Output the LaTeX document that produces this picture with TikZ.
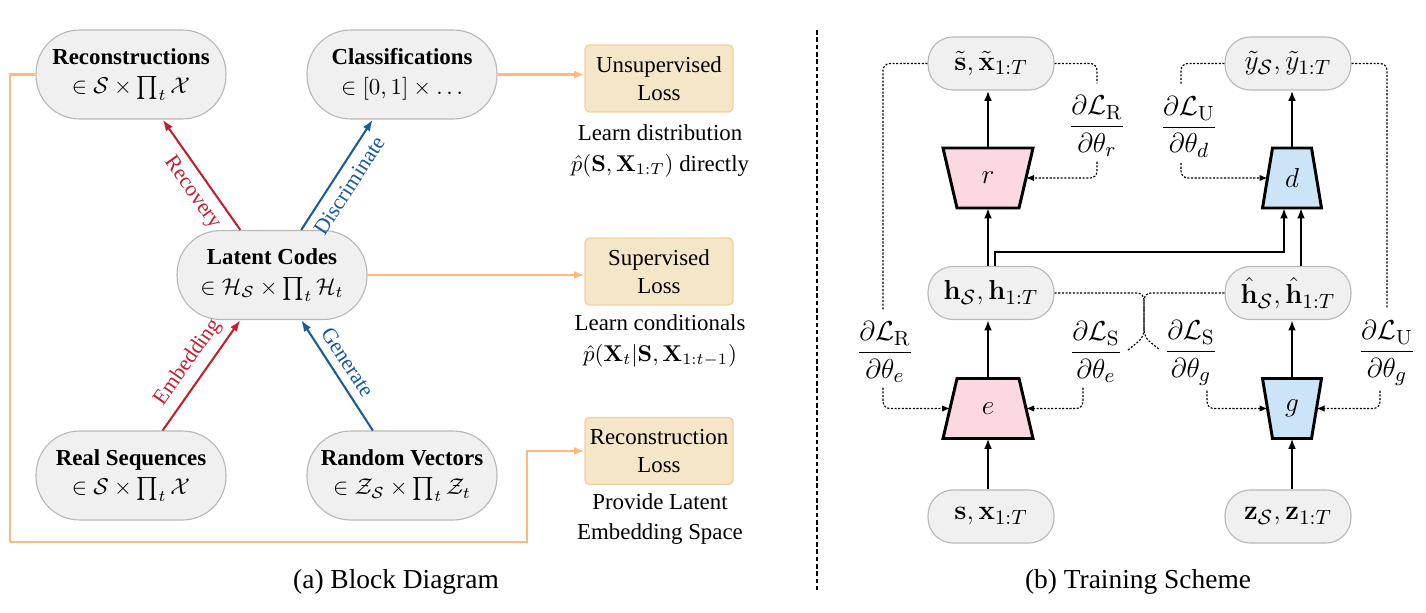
\documentclass[tikz,border=0pt]{standalone}
\usepackage[no-math]{fontspec}
\setmainfont{Liberation Serif}
\usetikzlibrary{arrows.meta,calc,backgrounds}
\definecolor{nfill}{RGB}{240,240,240}
\definecolor{ndraw}{RGB}{185,185,185}
\definecolor{lossfill}{RGB}{245,230,200}
\definecolor{lossdraw}{RGB}{240,208,160}
\definecolor{orangec}{RGB}{253,186,124}
\definecolor{redc}{RGB}{196,30,45}
\definecolor{bluec}{RGB}{25,90,155}
\definecolor{pinkc}{RGB}{252,216,224}
\definecolor{lbluec}{RGB}{204,228,248}
\begin{document}
\begin{tikzpicture}[x=0.4375pt,y=-0.4375pt,
  lnode/.style={draw=ndraw, fill=nfill, line width=0.5pt, rounded corners=19pt,
    minimum width=83.1pt, minimum height=38.9pt, align=center,
    font=\fontsize{10}{13}\selectfont, inner sep=0pt},
  rnode/.style={draw=ndraw, fill=nfill, line width=0.5pt, rounded corners=11pt,
    minimum width=55.1pt, minimum height=23.2pt, font=\fontsize{13}{15}\selectfont, inner sep=0pt},
  lossbox/.style={draw=lossdraw, fill=lossfill, line width=0.6pt, rounded corners=2pt,
    minimum width=64.75pt, minimum height=29.3pt, align=center,
    font=\fontsize{10}{12}\selectfont, inner sep=0pt},
  note/.style={align=center, font=\fontsize{10}{13.5}\selectfont, inner sep=0pt},
  capt/.style={font=\fontsize{12}{14}\selectfont, inner sep=0pt},
  lbl/.style={font=\fontsize{9.5}{10}\selectfont, inner sep=3.4pt, sloped},
  redarr/.style={draw=redc, line width=0.9pt, -{Latex[length=5pt,width=3.6pt]}},
  bluearr/.style={draw=bluec, line width=0.9pt, -{Latex[length=5pt,width=3.6pt]}},
  orline/.style={draw=orangec, line width=1.1pt},
  orarr/.style={orline, -{Latex[length=4.5pt,width=3.6pt]}},
  trap/.style={minimum width=#1, minimum height=26.25pt, inner sep=0pt, outer sep=0pt,
    font=\fontsize{13}{15}\selectfont},
  trapline/.style={draw=black, line width=1.3pt, line join=miter},
  arr/.style={draw=black, line width=0.9pt, -{Latex[length=4.5pt,width=3.4pt]}},
  frac/.style={font=\fontsize{13}{15}\selectfont, inner sep=0pt},
  dotline/.style={draw=black, line width=0.5pt, dash pattern=on 0.9pt off 0.7pt, rounded corners=3pt},
  dotarr/.style={dotline, -{Latex[length=3.5pt,width=2.8pt]}},
  sep/.style={draw=black, line width=1pt, dash pattern=on 2pt off 1.2pt}
]
\useasboundingbox (0,0) rectangle (1426,612);

% ---------- (a) Block diagram ----------
\node[lnode] (rec) at (131,74.5) {\textbf{Reconstructions}\\ $\in\mathcal{S}\times\prod_t\mathcal{X}$};
\node[lnode] (cls) at (402,74.5) {\textbf{Classifications}\\ $\in[0,1]\times\ldots$};
\node[lnode] (lat) at (272,275) {\textbf{Latent Codes}\\ $\in\mathcal{H}_\mathcal{S}\times\prod_t\mathcal{H}_t$};
\node[lnode] (real) at (131,475.5) {\textbf{Real Sequences}\\ $\in\mathcal{S}\times\prod_t\mathcal{X}$};
\node[lnode] (rand) at (402,475.5) {\textbf{Random Vectors}\\ $\in\mathcal{Z}_\mathcal{S}\times\prod_t\mathcal{Z}_t$};

\node[lossbox] (unsup) at (659,78.5) {Unsupervised\\Loss};
\node[lossbox] (sup) at (659,271.5) {Supervised\\Loss};
\node[lossbox] (recl) at (659,451) {Reconstruction\\Loss};

\node[note] (n1) at (660,151) {Learn distribution\\ $\hat{p}(\mathbf{S},\mathbf{X}_{1:T})$ directly};
\node[note] (n2) at (660,341) {Learn conditionals\\ $\hat{p}(\mathbf{X}_t|\mathbf{S},\mathbf{X}_{1:t-1})$};
\node[note] (n3) at (660,519) {Provide Latent\\ Embedding Space};

\draw[redarr] (lat) -- node[lbl, below, pos=0.43, text=redc] (lrec) {Recovery} (rec);
\draw[bluearr] (lat) -- node[lbl, below, pos=0.48, text=bluec] (ldis) {Discriminate} (cls);
\draw[redarr] (real) -- node[lbl, above, pos=0.52, text=redc] (lemb) {Embedding} (lat);
\draw[bluearr] (rand) -- node[lbl, above, pos=0.54, text=bluec] (lgen) {Generate} (lat);

\draw[orarr] (cls.east) -- (cls.east -| unsup.west);
\draw[orarr] (lat.east) -- (lat.east -| sup.west);
\coordinate (obl) at (10,542);
\coordinate (obr) at (527,542);
\draw[orarr] (rec.west) -| (obl) -- (obr) |- (recl.west);

\node[capt] (capa) at (396,582) {(a) Block Diagram};

% separator
\coordinate (sept) at (817,30);
\coordinate (sepb) at (817,592);
\draw[sep] (sept) -- (sepb);

% ---------- (b) Training scheme ----------
\node[rnode] (stx) at (991,63.5) {$\tilde{\mathbf{s}},\tilde{\mathbf{x}}_{1:T}$};
\node[rnode] (yt) at (1288,63.5) {$\tilde{y}_\mathcal{S},\tilde{y}_{1:T}$};
\node[rnode] (h) at (991,293) {$\mathbf{h}_\mathcal{S},\mathbf{h}_{1:T}$};
\node[rnode] (hh) at (1288,293) {$\hat{\mathbf{h}}_\mathcal{S},\hat{\mathbf{h}}_{1:T}$};
\node[rnode] (sx) at (991,516.5) {$\mathbf{s},\mathbf{x}_{1:T}$};
\node[rnode] (z) at (1288,516.5) {$\mathbf{z}_\mathcal{S},\mathbf{z}_{1:T}$};

\node[trap=33.25pt] (r) at (988,178) {$r$};
\node[trap=33.25pt] (e) at (988,408.5) {$e$};
\node[trap=21.44pt] (d) at (1292,178) {$d$};
\node[trap=21.44pt] (g) at (1292,408.5) {$g$};

\begin{scope}[on background layer]
\path[trapline, fill=pinkc] ($(r.north west)+(-7,0)$) -- ($(r.north east)+(7,0)$) -- ($(r.south east)+(-7,0)$) -- ($(r.south west)+(7,0)$) -- cycle;
\path[trapline, fill=pinkc] ($(e.north west)+(7,0)$) -- ($(e.north east)+(-7,0)$) -- ($(e.south east)+(7,0)$) -- ($(e.south west)+(-7,0)$) -- cycle;
\path[trapline, fill=lbluec] ($(d.north west)+(5,0)$) -- ($(d.north east)+(-5,0)$) -- ($(d.south east)+(5,0)$) -- ($(d.south west)+(-5,0)$) -- cycle;
\path[trapline, fill=lbluec] ($(g.north west)+(-5,0)$) -- ($(g.north east)+(5,0)$) -- ($(g.south east)+(-5,0)$) -- ($(g.south west)+(5,0)$) -- cycle;
\end{scope}

\node[frac] (FRe) at (885,352) {$\displaystyle\frac{\partial\mathcal{L}_\mathrm{R}}{\partial\theta_e}$};
\node[frac] (FSe) at (1096,352) {$\displaystyle\frac{\partial\mathcal{L}_\mathrm{S}}{\partial\theta_e}$};
\node[frac] (FSg) at (1191,353) {$\displaystyle\frac{\partial\mathcal{L}_\mathrm{S}}{\partial\theta_g}$};
\node[frac] (FUg) at (1387,353) {$\displaystyle\frac{\partial\mathcal{L}_\mathrm{U}}{\partial\theta_g}$};
\node[frac] (FRr) at (1097,126) {$\displaystyle\frac{\partial\mathcal{L}_\mathrm{R}}{\partial\theta_r}$};
\node[frac] (FUd) at (1189,127) {$\displaystyle\frac{\partial\mathcal{L}_\mathrm{U}}{\partial\theta_d}$};

% solid arrows
\draw[arr] (e.south |- sx.north) -- (e.south);
\draw[arr] (e.north) -- (e.north |- h.south);
\draw[arr] (r.south |- h.north) -- (r.south);
\draw[arr] (r.north) -- (r.north |- stx.south);
\coordinate (dL) at ($(d.south)+(-8,0)$);
\coordinate (dR) at ($(d.south)+(9,0)$);
\draw[arr] ($(h.north)+(4,0)$) -- ++(0,-14) -| (dL);
\draw[arr] (dR |- hh.north) -- (dR);
\draw[arr] (d.north) -- (d.north |- yt.south);
\draw[arr] (g.south |- z.north) -- (g.south);
\draw[arr] (g.north) -- (g.north |- hh.south);

% gradient flows
\draw[dotline] (stx.west) -| ($(FRe.north)+(-2,-12)$);
\draw[dotarr] ($(FRe.south)+(-2,5)$) |- (e.west);
\draw[dotline] (stx.east) -| ($(FRr.north)+(0,-12)$);
\draw[dotarr] ($(FRr.south)+(0,5)$) |- (r.east);
\draw[dotline] (yt.west) -| ($(FUd.north)+(-8,-12)$);
\draw[dotarr] ($(FUd.south)+(-8,5)$) |- (d.west);
\draw[dotline] (yt.east) -| ($(FUg.north)+(0,-12)$);
\draw[dotarr] ($(FUg.south)+(-7,5)$) |- (g.east);
\draw[dotarr] ($(FSe.south)+(-13,5)$) |- (e.east);
\draw[dotarr] ($(FSg.south)+(16,5)$) |- (g.west);
\coordinate (xa) at (1144,293);
\coordinate (xb) at (1144,337);
\coordinate (xl) at (1128,350);
\coordinate (xr) at (1160,350);
\draw[dotline] (h.east) -- (xa) -- (xb) -- (xr);
\draw[dotline] (hh.west) -- (xa) -- (xb) -- (xl);

\node[capt] (capb) at (1138,582) {(b) Training Scheme};
\end{tikzpicture}
\end{document}
